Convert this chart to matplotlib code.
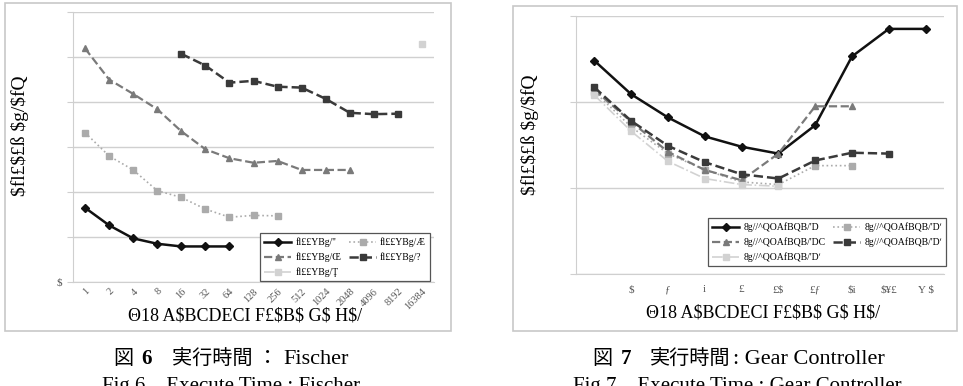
import numpy as np
import matplotlib.pyplot as plt
from matplotlib.patches import Rectangle

plt.rcParams['font.family'] = ['Liberation Serif', 'Noto Sans CJK JP', 'DejaVu Sans']
plt.rcParams['text.parse_math'] = False   # labels contain literal '$'

#%% DATA
# Fig.6 Fischer (values in gridline units)
fischer_x = ['1', '2', '4', '8', '16', '32', '64', '128', '256', '512',
             '1024', '2048', '4096', '8192', '16384']
fischer_s1 = [1.65, 1.26, 0.97, 0.85, 0.79, 0.79, 0.79]                          # idx 0-6
fischer_s2 = [3.32, 2.80, 2.49, 2.03, 1.88, 1.62, 1.44, 1.48, 1.47]              # idx 0-8
fischer_s3 = [5.19, 4.50, 4.18, 3.84, 3.35, 2.95, 2.75, 2.65, 2.69, 2.49, 2.49, 2.49]  # idx 0-11
fischer_s4 = [5.07, 4.81, 4.43, 4.47, 4.34, 4.32, 4.07, 3.76, 3.73, 3.74]        # idx 4-13
fischer_s5 = [5.30]                                                              # idx 14
fischer_start = [0, 0, 0, 4, 14]
fischer_labels = ["fl££YBg/''", 'fl££YBg/Æ', 'fl££YBg/Œ', 'fl££YBg/?', 'fl££YBg/Ţ']

# Fig.7 Gear Controller
gear_x = ['', '$', 'ƒ', 'i', '£', '£$', '£ƒ', '$i', '$¥£', 'Y $']
gear_s1 = [2.48, 2.09, 1.82, 1.60, 1.48, 1.40, 1.73, 2.53, 2.85, 2.85]
gear_s2 = [2.12, 1.71, 1.40, 1.21, 1.07, 1.04, 1.26, 1.26]
gear_s3 = [2.14, 1.77, 1.42, 1.21, 1.09, 1.40, 1.95, 1.95]
gear_s4 = [2.17, 1.78, 1.49, 1.30, 1.16, 1.11, 1.32, 1.41, 1.40]
gear_s5 = [2.08, 1.66, 1.31, 1.11, 1.04, 1.02]
gear_labels = ["8g//^QOAfBQB/'D", "8g//^QOAfBQB/'Dʹ", "8g//^QOAfBQB/'DC",
               "8g//^QOAfBQB/'Dʹ", "8g//^QOAfBQB/'Dʹ"]

ylabel_txt = '$fl£$£ß $g/$fQ'
xlabel_txt = 'Θ18 A$BCDECI F£$B$ G$ H$/'

# black solid diamond, light dotted square, gray dashed triangle,
# dark dashed square, very light dash-dot square
styles = [
    dict(color='#111111', ls='-', marker='D', ms=4, lw=1.8),
    dict(color='#ababab', ls=':', marker='s', ms=5, lw=1.2),
    dict(color='#7a7a7a', ls='--', marker='^', ms=5, lw=1.6),
    dict(color='#3a3a3a', ls='--', marker='s', ms=5, lw=1.8),
    dict(color='#d2d2d2', ls='-.', marker='s', ms=5, lw=1.2),
]

W, H = 963, 386
fig = plt.figure(figsize=(W / 100, H / 100), dpi=100)


def px_axes(x0, y0, x1, y1):
    return fig.add_axes([x0 / W, 1 - y1 / H, (x1 - x0) / W, (y1 - y0) / H])


def ftext(x, y, s, **kw):
    return fig.text(x / W, 1 - y / H, s, **kw)


def style_axes(ax, ymax):
    ax.set_ylim(0, ymax)
    ax.set_yticks(np.arange(0, ymax + 1))
    ax.grid(axis='y', color='#d0d0d0', lw=1)
    ax.set_axisbelow(True)
    for s in ['top', 'right']:
        ax.spines[s].set_visible(False)
    for s in ['left', 'bottom']:
        ax.spines[s].set_color('#cfcfcf')
    ax.tick_params(axis='y', length=4, color='#cfcfcf', labelsize=8, labelcolor='#555555')
    ax.tick_params(axis='x', length=0)


def add_legend(ax, handles, labels, x0, y0):
    order = [0, 2, 4, 1, 3]
    leg = ax.legend([handles[i] for i in order], [labels[i] for i in order], ncol=2,
                    loc='upper left', bbox_to_anchor=(x0 / W, 1 - y0 / H),
                    bbox_transform=fig.transFigure, fancybox=False, edgecolor='#555555',
                    framealpha=1, fontsize=7, handlelength=2.8, handletextpad=0.4,
                    labelspacing=0.55, columnspacing=0.8, borderpad=0.45)
    leg.get_frame().set_linewidth(0.9)
    return leg


# outer boxes
fig.patches.append(Rectangle((5 / W, 1 - 331 / H), 446 / W, 328 / H, transform=fig.transFigure,
                             fill=False, ec='#c8c8c8', lw=1.2))
fig.patches.append(Rectangle((513 / W, 1 - 331 / H), 444 / W, 325 / H, transform=fig.transFigure,
                             fill=False, ec='#c8c8c8', lw=1.2))

#%% Fig.6
ax1 = px_axes(73, 12, 434, 282)
style_axes(ax1, 6)
ax1.set_xlim(-0.5, len(fischer_x) - 0.5)
series = [fischer_s1, fischer_s2, fischer_s3, fischer_s4, fischer_s5]
handles = []
for vals, start, st, lab in zip(series, fischer_start, styles, fischer_labels):
    h, = ax1.plot(np.arange(start, start + len(vals)), vals, label=lab, **st)
    handles.append(h)
ax1.set_xticks(np.arange(len(fischer_x)))
ax1.set_xticklabels(fischer_x, rotation=45, ha='right', va='top', rotation_mode='anchor',
                    fontsize=7.5, color='#555555')
ax1.set_yticklabels(['$', '', '', '', '', '', ''])
add_legend(ax1, handles, fischer_labels, 255, 228)
ftext(20, 136, ylabel_txt, rotation=90, ha='center', va='center', fontsize=14)
ftext(245, 316, xlabel_txt, ha='center', va='center', fontsize=13)

#%% Fig.7
ax2 = px_axes(576, 16, 944, 274)
style_axes(ax2, 3)
ax2.set_xlim(-0.5, len(gear_x) - 0.5)
series = [gear_s1, gear_s2, gear_s3, gear_s4, gear_s5]
handles = []
for vals, st, lab in zip(series, styles, gear_labels):
    h, = ax2.plot(np.arange(len(vals)), vals, label=lab, **st)
    handles.append(h)
ax2.set_xticks(np.arange(len(gear_x)))
ax2.set_xticklabels(gear_x, fontsize=8, color='#555555')
ax2.tick_params(axis='x', pad=8)
ax2.set_yticklabels([])
add_legend(ax2, handles, gear_labels, 703, 213)
ftext(530, 135, ylabel_txt, rotation=90, ha='center', va='center', fontsize=14)
ftext(763, 313, xlabel_txt, ha='center', va='center', fontsize=13)

#%% captions (figure number in bold)
ftext(113, 364, '図', ha='left', va='baseline', fontsize=14.5)
ftext(141, 364, '6', ha='left', va='baseline', fontsize=15, fontweight='bold')
ftext(172, 364, '実行時間 ：', ha='left', va='baseline', fontsize=14.5)
ftext(283, 364, 'Fischer', ha='left', va='baseline', fontsize=16)
ftext(231, 391, 'Fig.6    Execute Time : Fischer', ha='center', va='baseline', fontsize=15)

ftext(592, 364, '図', ha='left', va='baseline', fontsize=14.5)
ftext(621, 364, '7', ha='left', va='baseline', fontsize=15, fontweight='bold')
ftext(650, 364, '実行時間', ha='left', va='baseline', fontsize=14.5)
ftext(733, 364, ': Gear Controller', ha='left', va='baseline', fontsize=16)
ftext(737, 391, 'Fig.7    Execute Time : Gear Controller', ha='center', va='baseline', fontsize=15)

fig.savefig('out.png', dpi=100)
